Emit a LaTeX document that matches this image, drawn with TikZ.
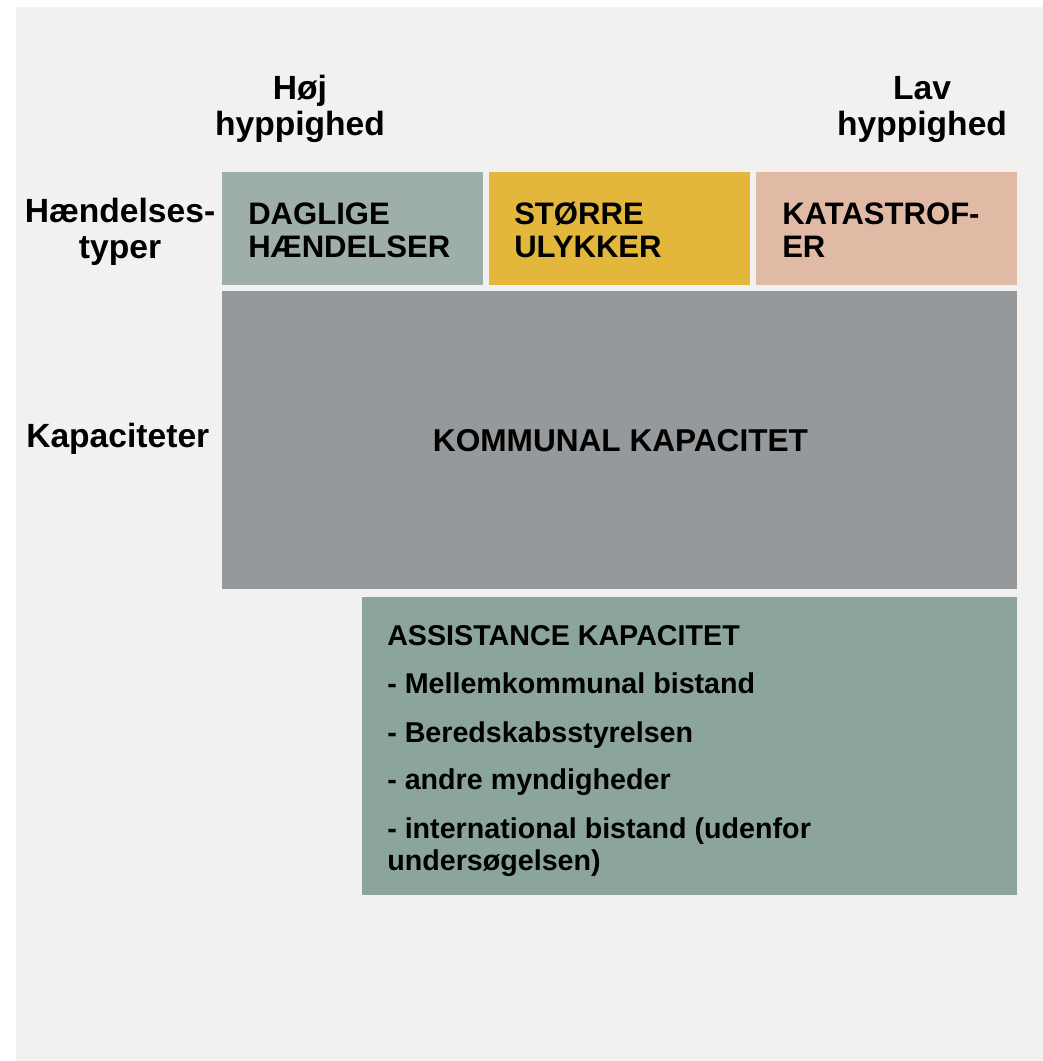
\documentclass[tikz,border=0pt]{standalone}
\usepackage{fontspec}
\setmainfont{Liberation Sans}

\definecolor{bggray}{HTML}{F2F1EF}
\definecolor{dagligcol}{HTML}{9DAEAB}
\definecolor{stoerrecol}{HTML}{E3B73B}
\definecolor{katacol}{HTML}{E0BAA5}
\definecolor{kommunecol}{HTML}{96999C}
\definecolor{assistcol}{HTML}{8BA59B}

\tikzset{
	hoved/.style={inner sep=0pt,font=\bfseries\fontsize{25.2}{27}\selectfont},
	felt/.style={inner sep=0pt,align=left,font=\bfseries\fontsize{23.3}{24.75}\selectfont},
	punkt/.style={inner sep=0pt,align=left,anchor=base west,font=\bfseries\fontsize{21.5}{24}\selectfont}
}

\begin{document}
\begin{tikzpicture}[x=0.75pt,y=0.75pt,yscale=-1]
		%page and background
		\useasboundingbox (0,0) rectangle (1043,1061);
		\fill[white] (0,0) rectangle (1043,1061);
		\fill[bggray] (16,7) rectangle (1043,1061);

		%boxes
		\fill[dagligcol] (222,172) rectangle (483,285);
		\fill[stoerrecol] (489,172) rectangle (750,285);
		\fill[katacol] (756,172) rectangle (1017,285);
		\fill[kommunecol] (222,291) rectangle (1017,589);
		\fill[assistcol] (362,597) rectangle (1017,895);

		%headings (base = last line)
		\node (hoej) [hoved,align=center,anchor=base] at (300,135) {Høj\\hyppighed};
		\node (lav) [hoved,align=center,anchor=base] at (922,135) {Lav\\hyppighed};
		\node (typer) [hoved,align=center,anchor=base] at (120,258) {Hændelses-\\typer};
		\node (kap) [hoved,anchor=base west] at (26,447) {Kapaciteter};

		%box texts
		\node (daglig) [felt,anchor=base west] at (248,257) {DAGLIGE\\HÆNDELSER};
		\node (stoerre) [felt,anchor=base west] at (514,257) {STØRRE\\ULYKKER};
		\node (kata) [felt,anchor=base west] at (782,257) {KATASTROF-\\ER};
		\node (kommune) [felt,anchor=base,font=\bfseries\fontsize{23.7}{24.75}\selectfont] at (620.5,451) {KOMMUNAL KAPACITET};

		\node (assist) [punkt] at (387,645) {ASSISTANCE KAPACITET};
		\node (mellem) [punkt] at (387,693) {- Mellemkommunal bistand};
		\node (beredsk) [punkt] at (387,742) {- Beredskabsstyrelsen};
		\node (andre) [punkt] at (387,789) {- andre myndigheder};
		\node (intl) [punkt] at (387,870) {- international bistand (udenfor\\undersøgelsen)};
\end{tikzpicture}
\end{document}
